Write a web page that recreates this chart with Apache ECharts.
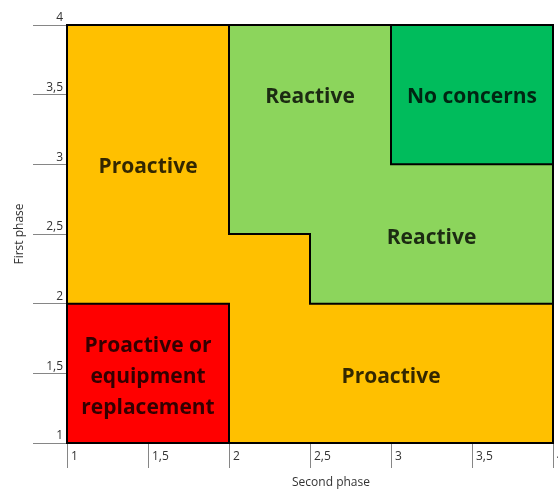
<!DOCTYPE html>
<html>
<head>
<meta charset="utf-8">
<script src="https://cdn.jsdelivr.net/npm/echarts@6/dist/echarts.min.js"></script>
<style>
  html, body { margin: 0; padding: 0; background: #fff; }
  #chart { width: 558px; height: 490px; }
</style>
</head>
<body>
<div id="chart"></div>
<script>
// axis range and ticks
const axisMin = 1
const axisMax = 4
const tickStep = 0.5

// zones, as polygons in (second phase, first phase) values
const zoneNames = ['Proactive', 'Proactive or equipment replacement', 'Reactive', 'No concerns']
const zonePolygons = [
  [[1, 1], [4, 1], [4, 4], [1, 4]],
  [[1, 1], [2, 1], [2, 2], [1, 2]],
  [[2, 4], [2, 2.5], [2.5, 2.5], [2.5, 2], [4, 2], [4, 4]],
  [[3, 3], [4, 3], [4, 4], [3, 4]]
]
const zoneColors = ['#FFC000', '#FF0000', '#8CD55C', '#00BC5C']

// text labels inside the zones
const labelPoints = [[1.5, 2.98], [2.5, 3.48], [3.5, 3.48], [3.25, 2.47], [1.5, 1.47], [3, 1.47]]
const labelTexts = ['Proactive', 'Reactive', 'No concerns', 'Reactive', 'Proactive or\nequipment\nreplacement', 'Proactive']

const fmt = v => String(v).replace('.', ',')
const axisGray = '#868686'

const chart = echarts.init(document.getElementById('chart'))

const option = {
  animation: false,
  grid: { left: 67, right: 5, top: 25, bottom: 47, outerBoundsMode: 'none' },
  xAxis: {
    type: 'value',
    min: axisMin,
    max: axisMax,
    interval: tickStep,
    name: 'Second phase',
    nameLocation: 'middle',
    nameGap: 34,
    // title sits a bit right of the axis middle
    nameTextStyle: { fontFamily: 'Open Sans', fontSize: 12, color: '#333', padding: [0, 0, 0, 42] },
    splitLine: { show: false },
    axisLine: { lineStyle: { color: axisGray } },
    axisTick: { length: 25, lineStyle: { color: axisGray } },
    axisLabel: {
      formatter: fmt,
      align: 'left',
      padding: [0, 0, 0, 4],
      margin: 8,
      fontFamily: 'Open Sans',
      fontSize: 12,
      color: '#333'
    }
  },
  yAxis: {
    type: 'value',
    min: axisMin,
    max: axisMax,
    interval: tickStep,
    name: 'First phase',
    nameLocation: 'middle',
    nameGap: 41,
    nameTextStyle: { fontFamily: 'Open Sans', fontSize: 12, color: '#333' },
    splitLine: { show: false },
    axisLine: { lineStyle: { color: axisGray } },
    axisTick: { length: 34, lineStyle: { color: axisGray } },
    axisLabel: {
      formatter: fmt,
      margin: 4,
      verticalAlign: 'bottom',
      padding: [0, 0, 1, 0],
      fontFamily: 'Open Sans',
      fontSize: 12,
      color: '#333'
    }
  },
  series: [
    {
      type: 'custom',
      name: 'zones',
      clip: false,
      data: zonePolygons.map((p, i) => [i]),
      renderItem: (params, api) => {
        const pts = zonePolygons[params.dataIndex].map(p => api.coord(p))
        return {
          type: 'polygon',
          shape: { points: pts },
          style: { fill: zoneColors[params.dataIndex], stroke: '#000', lineWidth: 2 }
        }
      },
      z: 1
    },
    {
      type: 'scatter',
      name: 'labels',
      symbolSize: 0,
      data: labelPoints.map((p, i) => ({ value: p, name: labelTexts[i] })),
      label: {
        show: true,
        position: 'inside',
        formatter: p => p.name,
        fontFamily: 'Open Sans',
        fontWeight: 'bold',
        fontSize: 21,
        lineHeight: 31,
        color: '#000'
      },
      z: 5
    }
  ]
}

chart.setOption(option)
</script>
</body>
</html>
